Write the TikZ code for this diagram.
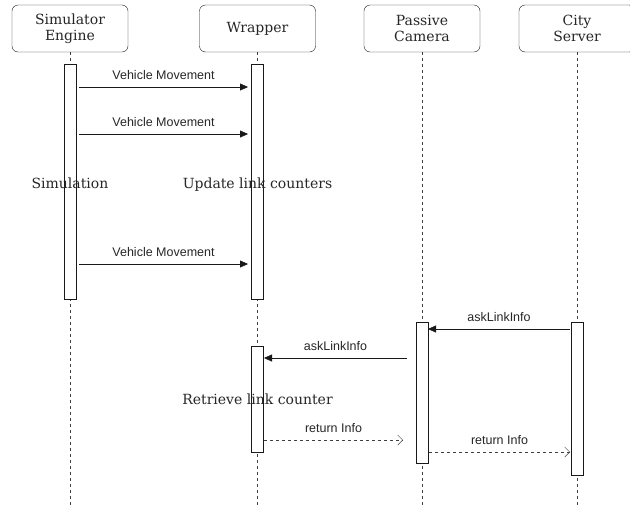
\documentclass[tikz,border=0pt]{standalone}
\usepackage{fontspec}
\setmainfont{DejaVu Serif}
\newfontfamily\msgfont{Liberation Sans}
\usetikzlibrary{arrows.meta}

\tikzset{
  actor/.style={draw=black!90, rounded corners=6pt, fill=white,
    minimum width=116pt, minimum height=47pt, align=center,
    font=\fontsize{14}{16}\selectfont, text=black!85},
  lifeline/.style={draw=black!75, dash pattern=on 3pt off 3pt},
  bar/.style={draw=black!90, fill=white, minimum width=12pt, inner sep=0pt},
  call/.style={draw=black!90, -{Triangle[length=8pt,width=7pt]}},
  reply/.style={draw=black!75, dash pattern=on 3pt off 3pt,
    -{Straight Barb[length=5pt,width=10pt]}},
  msglabel/.style={font=\msgfont\fontsize{12.5}{14}\selectfont, text=black!85, above=3.5pt},
  note/.style={font=\fontsize{14}{16}\selectfont, text=black!85, anchor=base}
}

\begin{document}
\begin{tikzpicture}[x=1pt, y=-1pt]
  \useasboundingbox (0,0) rectangle (630,507);
  \coordinate (bottom) at (0,507);

  % Participants
  \node[actor] (sim)  at (70,28.5)   {Simulator\\Engine};
  \node[actor] (wrap) at (257.5,28.5) {Wrapper};
  \node[actor] (cam)  at (422,28.5)  {Passive\\Camera};
  \node[actor] (city) at (577,28.5)  {City\\Server};

  % Lifelines
  \foreach \p in {sim, wrap, cam, city} {
    \draw[lifeline] (\p.south) -- (\p.south |- bottom);
  }

  % Activation bars
  \node[bar, minimum height=235pt] (simbar)   at (70,181.5) {};
  \node[bar, minimum height=235pt] (wrapbar)  at (257.5,181.5) {};
  \node[bar, minimum height=106pt] (wrapbarb) at (257.5,399) {};
  \node[bar, minimum height=141pt] (cambar)   at (422,392.5) {};
  \node[bar, minimum height=153pt] (citybar)  at (577,398.5) {};

  % Vehicle movements
  \foreach \y [count=\i] in {87, 134, 264} {
    \coordinate (vm\i-from) at (79,\y);
    \coordinate (vm\i-to) at (248,\y);
    \draw[call] (vm\i-from) -- node[msglabel] {Vehicle Movement} (vm\i-to);
  }

  % Requests
  \coordinate (ask1-from) at (570,329);
  \coordinate (ask1-to) at (428,329);
  \draw[call] (ask1-from) -- node[msglabel] {askLinkInfo} (ask1-to);
  \coordinate (ask2-from) at (407,358);
  \coordinate (ask2-to) at (264,358);
  \draw[call] (ask2-from) -- node[msglabel] {askLinkInfo} (ask2-to);

  % Replies
  \coordinate (ret1-from) at (264,440);
  \coordinate (ret1-to) at (403,440);
  \draw[reply] (ret1-from) -- node[msglabel] {return Info} (ret1-to);
  \coordinate (ret2-from) at (429,452);
  \coordinate (ret2-to) at (570,452);
  \draw[reply] (ret2-from) -- node[msglabel] {return Info} (ret2-to);

  % Notes
  \node[note] (simnote)  at (70,188)    {Simulation};
  \node[note] (updnote)  at (257.5,188) {Update link counters};
  \node[note] (retrnote) at (257.5,404) {Retrieve link counter};
\end{tikzpicture}
\end{document}
